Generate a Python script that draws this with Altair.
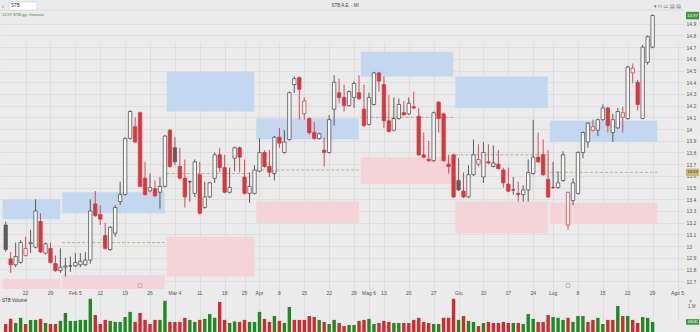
import altair as alt
import pandas as pd

FONT = "Liberation Sans"
BG = "#ebebeb"
GRID = "#d9d9d9"
RED = "#d9363e"
DARK = "#4a4a4a"
GRAYC = "#5c5c5c"
BLUE = "#c3d8ef"
PINK = "#f4d4d8"
VGREEN = "#1f8a22"
VRED = "#d42a2e"

# ---------------- data ----------------
opens = [13.18, 12.89, 12.84, 12.86, 12.92, 13.02, 12.99, 13.21, 12.94, 12.98,
         12.85, 12.79, 12.82, 12.83, 12.83, 12.84, 12.84, 12.88, 13.36, 13.27,
         13.09, 12.97, 13.11, 13.38, 13.44, 13.92, 14.02, 14.14, 13.58, 13.47,
         13.49, 13.46, 13.51, 13.99, 13.84, 13.68, 13.58, 13.55, 13.45, 13.61,
         13.33, 13.42, 13.58, 13.78, 13.67, 13.46, 13.75, 13.84, 13.59, 13.45,
         13.45, 13.64, 13.80, 13.68, 13.62, 13.93, 13.80, 13.91, 14.38, 14.44,
         14.13, 14.09, 13.97, 13.92, 13.82, 13.80, 14.17, 14.31, 14.27, 14.20,
         14.27, 14.31, 14.17, 14.04, 14.21, 14.48, 14.38, 14.07, 13.99, 14.09,
         14.14, 14.13, 14.19, 14.11, 13.78, 13.74, 13.73, 14.23, 14.13, 13.70,
         13.78, 13.56, 13.47, 13.42, 13.61, 13.70, 13.59, 13.72, 13.68, 13.70,
         13.65, 13.53, 13.48, 13.45, 13.44, 13.48, 13.62, 13.76, 13.78, 13.57,
         13.50, 13.50, 13.56, 13.18, 13.39, 13.45, 13.80, 13.89, 13.99, 13.99,
         14.08, 14.18, 13.97, 14.01, 14.10, 14.09, 14.48, 14.40, 14.09, 14.57,
         14.70]
highs = [13.21, 12.95, 13.03, 13.05, 13.08, 13.14, 13.40, 13.28, 13.03, 13.03,
         12.92, 12.98, 12.90, 12.91, 12.94, 12.94, 12.95, 13.40, 13.47, 13.35,
         13.20, 13.17, 13.35, 13.55, 13.93, 14.16, 14.10, 14.15, 13.72, 13.62,
         13.56, 13.59, 13.95, 14.00, 13.93, 13.84, 13.74, 13.56, 13.74, 13.72,
         13.55, 13.55, 13.80, 13.84, 13.78, 13.67, 13.85, 13.85, 13.74, 13.63,
         13.69, 13.92, 13.82, 13.82, 13.94, 14.01, 13.99, 14.32, 14.45, 14.45,
         14.27, 14.10, 14.06, 13.97, 13.93, 14.12, 14.46, 14.43, 14.38, 14.33,
         14.41, 14.46, 14.38, 14.31, 14.49, 14.49, 14.45, 14.29, 14.27, 14.26,
         14.24, 14.27, 14.32, 14.18, 13.97, 13.90, 14.15, 14.24, 14.14, 13.78,
         13.79, 13.75, 13.63, 13.69, 13.91, 13.87, 13.89, 13.87, 13.86, 13.82,
         13.67, 13.67, 13.59, 13.55, 13.52, 13.74, 14.08, 13.97, 13.91, 13.82,
         13.72, 13.64, 13.81, 13.46, 13.58, 13.81, 13.98, 14.06, 14.08, 14.09,
         14.21, 14.19, 14.13, 14.18, 14.19, 14.54, 14.56, 14.42, 14.72, 14.80,
         14.98]
lows = [12.95, 12.77, 12.82, 12.85, 12.91, 12.94, 12.98, 12.94, 12.93, 12.85,
        12.78, 12.77, 12.74, 12.78, 12.82, 12.82, 12.83, 12.85, 13.25, 13.18,
        12.97, 12.96, 13.08, 13.35, 13.43, 13.91, 13.88, 13.50, 13.43, 13.46,
        13.42, 13.32, 13.50, 13.67, 13.69, 13.57, 13.33, 13.38, 13.42, 13.27,
        13.32, 13.41, 13.54, 13.63, 13.45, 13.45, 13.64, 13.63, 13.44, 13.37,
        13.44, 13.63, 13.67, 13.59, 13.56, 13.84, 13.79, 13.90, 14.31, 14.08,
        14.08, 13.95, 13.91, 13.91, 13.68, 13.79, 14.03, 14.22, 14.15, 14.19,
        14.18, 14.25, 14.02, 14.03, 14.20, 14.32, 14.01, 13.97, 13.98, 14.08,
        14.12, 14.12, 14.17, 13.77, 13.75, 13.72, 13.72, 13.97, 13.72, 13.62,
        13.41, 13.47, 13.41, 13.41, 13.60, 13.68, 13.54, 13.70, 13.67, 13.66,
        13.50, 13.46, 13.44, 13.38, 13.38, 13.38, 13.61, 13.71, 13.60, 13.41,
        13.49, 13.49, 13.55, 13.14, 13.35, 13.44, 13.75, 13.84, 13.98, 13.94,
        14.07, 13.97, 13.89, 14.00, 13.97, 14.08, 14.39, 14.16, 14.09, 14.55,
        14.69]
closes = [12.97, 12.84, 12.91, 13.03, 12.98, 13.03, 13.30, 12.95, 13.02, 12.86,
          12.79, 12.82, 12.83, 12.83, 12.86, 12.87, 12.88, 13.30, 13.26, 13.23,
          12.98, 13.16, 13.33, 13.44, 13.92, 14.15, 13.89, 13.51, 13.44, 13.50,
          13.43, 13.51, 13.94, 13.68, 13.72, 13.58, 13.42, 13.55, 13.72, 13.28,
          13.42, 13.54, 13.78, 13.67, 13.46, 13.50, 13.84, 13.76, 13.45, 13.51,
          13.65, 13.80, 13.68, 13.63, 13.93, 13.88, 13.89, 14.31, 14.43, 14.34,
          14.24, 13.97, 13.92, 13.96, 13.80, 14.08, 14.40, 14.27, 14.20, 14.32,
          14.39, 14.26, 14.03, 14.27, 14.48, 14.41, 14.07, 13.98, 14.09, 14.21,
          14.12, 14.22, 14.18, 13.78, 13.76, 13.73, 14.14, 14.09, 13.73, 13.68,
          13.42, 13.48, 13.42, 13.61, 13.78, 13.74, 13.80, 13.71, 13.71, 13.66,
          13.54, 13.47, 13.48, 13.44, 13.48, 13.63, 13.76, 13.72, 13.61, 13.42,
          13.50, 13.54, 13.78, 13.46, 13.54, 13.80, 13.97, 14.05, 14.02, 14.08,
          14.18, 14.03, 14.08, 14.15, 14.14, 14.53, 14.52, 14.21, 14.70, 14.79,
          14.97]
# volumes in thousands of shares
volumes = [350, 550, 390, 590, 350, 510, 510, 550, 390, 350,
           350, 470, 780, 470, 470, 510, 510, 1330, 700, 350,
           510, 470, 430, 430, 620, 820, 430, 780, 510, 350,
           510, 510, 1250, 430, 430, 430, 590, 510, 430, 510,
           550, 740, 590, 1210, 510, 390, 450, 430, 510, 430,
           430, 820, 550, 430, 660, 470, 390, 1010, 510, 510,
           510, 660, 620, 510, 430, 350, 510, 390, 270, 310,
           310, 470, 510, 550, 350, 390, 470, 430, 390, 390,
           390, 390, 510, 590, 430, 390, 350, 350, 590, 590,
           1330, 510, 660, 470, 430, 270, 390, 430, 390, 390,
           430, 390, 390, 390, 350, 740, 550, 430, 430, 700,
           620, 590, 510, 590, 430, 660, 660, 430, 510, 590,
           350, 510, 510, 1050, 660, 660, 510, 390, 620, 590,
           430]
vol_dir = ("d d u u d u u d u d "
           "d u u u u u u u d d "
           "d u u u u u d d d d "
           "d u u d d d d u u d "
           "u u u d d u u d d u "
           "u u d d u d u u d d "
           "d d d u d u u d d u "
           "u d d u u d d d u u "
           "d d d d d d u u d d "
           "d u d u u d u d d d "
           "d d u d u u u d d d "
           "u u u d u u u d d u "
           "u d d u d u d d u u "
           "u").split()

# x-axis (trading-day index -> label)
tick_idx = [4, 9, 14, 19, 24, 29, 34, 39, 44, 48, 51, 55, 60, 65, 70, 73, 76,
            81, 86, 91, 96, 101, 106, 110, 115, 120, 125, 130, 135]
tick_lab = ["22", "29", "Feb 5", "12", "19", "26", "Mar 4", "11", "18", "25",
            "Apr", "8", "15", "22", "29", "Mag 6", "13", "20", "27", "Giu",
            "10", "17", "24", "Lug", "8", "15", "22", "29", "Ago 5"]
price_ticks = [12.7, 12.8, 12.9, 13.0, 13.1, 13.2, 13.3, 13.4, 13.5, 13.6, 13.7,
               13.8, 13.9, 14.0, 14.1, 14.2, 14.3, 14.4, 14.5, 14.6, 14.7, 14.8, 14.9]

# monthly zones: first / last trading-day index, upper (blue) and lower (pink) bands, mid line
month_first = [0, 12, 33, 51, 72, 91, 110]
month_last = [11, 32, 50, 71, 90, 109, 131]
blue_top = [13.40, 13.46, 14.49, 14.09, 14.66, 14.45, 14.07]
blue_bot = [13.23, 13.28, 14.15, 13.91, 14.45, 14.18, 13.89]
pink_top = [12.72, 12.75, 13.08, 13.38, 13.76, 13.38, 13.37]
pink_bot = [12.633, 12.633, 12.74, 13.20, 13.53, 13.11, 13.19]
mid_line = [None, 13.03, 13.62, 13.65, 14.10, 13.78, 13.63]

event_idx = [27, 113]

# ---------------- frames ----------------
n = len(closes)
df = pd.DataFrame({"i": list(range(n)), "o": opens, "h": highs, "l": lows,
                   "c": closes, "v": volumes, "d": vol_dir})
prev = df["c"].shift(1)
up = df["c"] >= df["o"]
above = prev.isna() | (df["c"] >= prev)
df["s"] = [("hb" if a else "hr") if u else ("fg" if a else "fr") for u, a in zip(up, above)]

zdf = pd.DataFrame({"first": month_first, "last": month_last, "bt": blue_top,
                    "bb": blue_bot, "pt": pink_top, "pb": pink_bot, "m": mid_line})
tdf = pd.DataFrame({"i": tick_idx, "t": tick_lab})
edf = pd.DataFrame({"i": event_idx})
one = pd.DataFrame({"k": [0]})

# ---------------- scales / axes ----------------
W, H = 684, 332
xs = alt.Scale(domain=[-0.14, 135.3], nice=False, zero=False)
ys = alt.Scale(domain=[12.633, 15.009], range=[289, 11], nice=False, zero=False)
vs = alt.Scale(domain=[0, 1400], range=[333, 297], nice=False, zero=False)

x_axis = alt.Axis(values=tick_idx, labels=False, ticks=False, domain=False, grid=True,
                  gridColor=GRID, gridWidth=0.8, title=None)
y_axis = alt.Axis(orient="right", values=price_ticks, format="~g", ticks=False, domain=False,
                  grid=True, gridColor=GRID, gridWidth=0.8, labelFontSize=5,
                  labelColor="#555555", labelFont=FONT, labelPadding=2, title=None,
                  labelOverlap=False, labelFlush=False)


def X(f):
    return alt.X(f, type="quantitative", scale=xs, axis=x_axis)


def Y(f):
    return alt.Y(f, type="quantitative", scale=ys, axis=y_axis)


S_DOM = ["hb", "hr", "fg", "fr"]
fill_sc = alt.Scale(domain=S_DOM, range=["#f8f8f8", "#f8f8f8", GRAYC, RED])
stroke_sc = alt.Scale(domain=S_DOM, range=[DARK, RED, GRAYC, RED])

# ---------------- price pane ----------------
zb = alt.Chart(zdf).transform_calculate(x1="datum.first - 0.65", x2="datum.last - 0.05")
blue = zb.mark_rect(color=BLUE, clip=True).encode(x=X("x1"), x2="x2", y=Y("bt"), y2="bb")
pink = zb.mark_rect(color=PINK, clip=True).encode(x=X("x1"), x2="x2", y=Y("pt"), y2="pb")
dashed = zb.transform_filter("isValid(datum.m)").mark_rule(
    color="#a99f80", strokeWidth=0.8, strokeDash=[3, 2]).encode(x=X("x1"), x2="x2", y=Y("m"))

wicks = alt.Chart(df).mark_rule(strokeWidth=0.9, clip=True).encode(
    x=X("i"), y=Y("l"), y2="h", color=alt.Color("s:N", scale=stroke_sc, legend=None))
bodies = alt.Chart(df).mark_bar(size=3.4, strokeWidth=0.75, clip=True).encode(
    x=X("i"), y=Y("o"), y2="c",
    fill=alt.Fill("s:N", scale=fill_sc, legend=None),
    stroke=alt.Stroke("s:N", scale=stroke_sc, legend=None))

events = alt.Chart(edf).mark_square(size=14, filled=False, color="#8a8a8a", strokeWidth=0.7).encode(
    x=X("i"), y=alt.value(285.5))

xlabels = alt.Chart(tdf).mark_text(fontSize=5, color="#555555", font=FONT, baseline="middle").encode(
    x=X("i"), y=alt.value(293), text="t:N")

# toolbar strip
tb_bg = alt.Chart(one).mark_rect(color=BG).encode(
    x=alt.value(0), x2=alt.value(W), y=alt.value(0), y2=alt.value(10))
tb_line = alt.Chart(one).mark_rule(color="#d2d2d2", strokeWidth=0.6).encode(
    x=alt.value(0), x2=alt.value(W), y=alt.value(10))
tb_box = alt.Chart(one).mark_rect(fill="white", stroke="#c4c4c4", strokeWidth=0.5).encode(
    x=alt.value(9), x2=alt.value(37), y=alt.value(2), y2=alt.value(10))
tb_sym = alt.Chart(one).mark_text(fontSize=6, color="#666666", font=FONT, align="left",
                                  baseline="middle").encode(
    x=alt.value(2), y=alt.value(6), text=alt.value("‹"))
tb_txt = alt.Chart(one).mark_text(fontSize=4.5, color="#333333", font=FONT, align="left",
                                  baseline="middle").encode(
    x=alt.value(11), y=alt.value(6), text=alt.value("STB"))
tb_title = alt.Chart(one).mark_text(fontSize=4.5, color="#444444", font=FONT, align="center",
                                    baseline="middle").encode(
    x=alt.value(345), y=alt.value(6), text=alt.value("STB A.E. - MI"))
tb_icons = alt.Chart(one).mark_text(fontSize=5, color="#666666", font="DejaVu Sans", align="left",
                                    baseline="middle").encode(
    x=alt.value(654), y=alt.value(6), text=alt.value("▾  ⊓  ▭  ▤  ▤"))
info = alt.Chart(one).mark_text(fontSize=4, color="#2f8f2f", font=FONT, align="left",
                                baseline="middle").encode(
    x=alt.value(2), y=alt.value(14.5), text=alt.value("14.97 STB gg: chiusura"))

# right-side price boxes
pbox_df = pd.DataFrame({"v": [closes[-1]]})
mbox_df = pd.DataFrame({"v": [mid_line[-1]]})


def price_box(frame, fill, tcol):
    b = alt.Chart(frame).transform_calculate(t="datum.v + 0.032", b="datum.v - 0.032")
    r = b.mark_rect(color=fill).encode(x=alt.value(686), x2=alt.value(699), y=Y("t"), y2="b")
    t = b.mark_text(fontSize=4.3, color=tcol, font=FONT, align="center", baseline="middle").encode(
        x=alt.value(692.5), y=Y("v"), text=alt.Text("v:Q", format=".2f"))
    return r + t


price = alt.layer(
    blue, pink, dashed, wicks, bodies, events, xlabels,
    tb_bg, tb_line, tb_box, tb_sym, tb_txt, tb_title, tb_icons, info,
    price_box(pbox_df, "#3c9a3c", "white"), price_box(mbox_df, "#cbb872", "#333333"),
)

# ---------------- volume pane ----------------
vbars = alt.Chart(df).mark_bar(size=3.4, clip=True).encode(
    x=X("i"), y=alt.Y("v:Q", scale=vs, axis=None),
    color=alt.Color("d:N", scale=alt.Scale(domain=["u", "d"], range=[VGREEN, VRED]), legend=None))
vlab = alt.Chart(one).mark_text(fontSize=4.5, color="#333333", font=FONT, align="left",
                                baseline="middle").encode(
    x=alt.value(2), y=alt.value(300.5), text=alt.value("STB Volume"))
mdf = pd.DataFrame({"v": [1000], "t": ["1 M"]})
vtick = alt.Chart(mdf).mark_text(fontSize=4.5, color="#555555", font=FONT, align="left",
                                 baseline="middle").encode(
    x=alt.value(688), y=alt.Y("v:Q", scale=vs, axis=None), text="t:N")
vx = alt.Chart(one).mark_text(fontSize=5, color="#666666", font=FONT, align="left",
                              baseline="middle").encode(
    x=alt.value(689), y=alt.value(301), text=alt.value("×"))
lvdf = pd.DataFrame({"v": [volumes[-1]], "t": [f"{volumes[-1]}K"]})
lvb = alt.Chart(lvdf).transform_calculate(t1="datum.v + 110", b1="datum.v - 110")
lv_rect = lvb.mark_rect(color="#3c9a3c").encode(
    x=alt.value(686), x2=alt.value(699), y=alt.Y("t1:Q", scale=vs, axis=None), y2="b1")
lv_text = lvb.mark_text(fontSize=4.3, color="white", font=FONT, align="center",
                        baseline="middle").encode(
    x=alt.value(692.5), y=alt.Y("v:Q", scale=vs, axis=None), text="t:N")

volume = alt.layer(vbars, vlab, vtick, vx, lv_rect, lv_text)

chart = alt.layer(price, volume).resolve_scale(y="independent", color="independent").properties(
    width=W, height=H,
    autosize=alt.AutoSizeParams(type="none"),
    padding={"left": 0, "top": 0, "right": 16, "bottom": 0},
    background=BG,
).configure_view(stroke=None, fill=BG)

chart.save("out.html", embed_options={"renderer": "svg", "actions": False})
